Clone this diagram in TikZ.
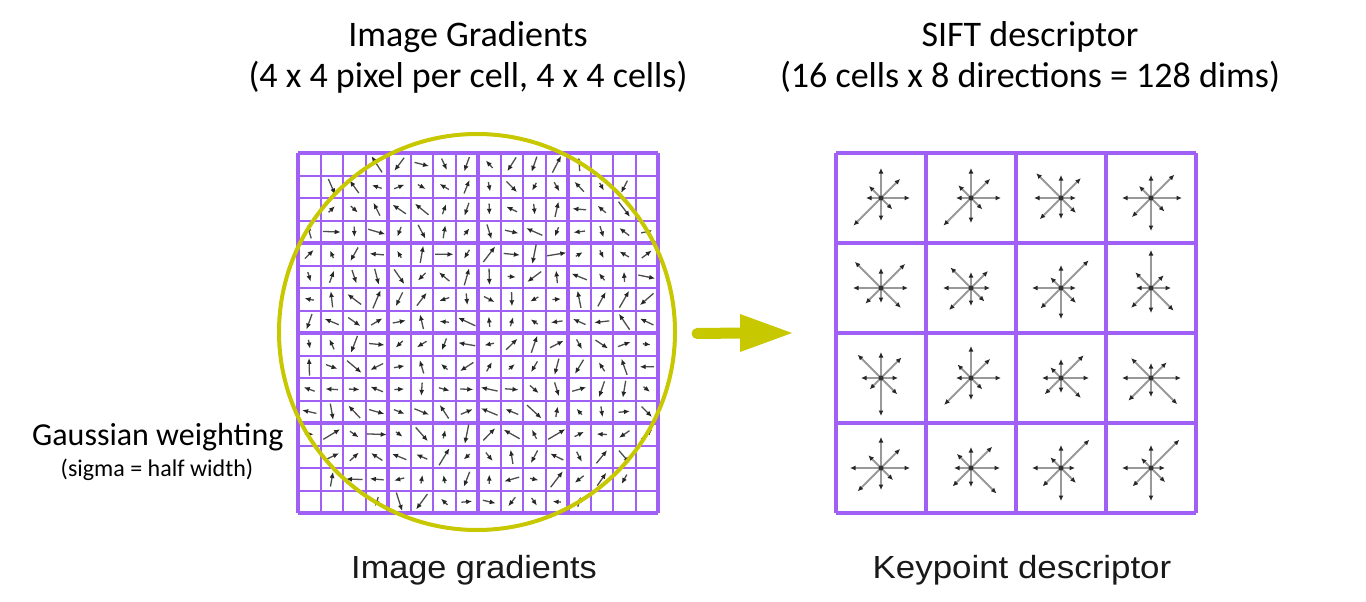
\documentclass[tikz,border=0pt]{standalone}
\usepackage{fontspec}
\usepackage{graphicx}
\setmainfont{Carlito}
\newfontfamily\arialf{Liberation Sans}
\usetikzlibrary{arrows.meta}
\definecolor{gridp}{RGB}{160,95,245}
\definecolor{yel}{RGB}{200,200,0}
\tikzset{
  thinl/.style={draw=gridp, line width=2pt},
  thickl/.style={draw=gridp, line width=4.5pt},
  garrow/.style={draw=black!70, line width=1.3pt, -{Latex[length=6pt,width=5pt,color=black!85]}},
  starline/.style={draw=black!40, line width=2pt, -{Latex[length=5.5pt,width=5pt,color=black!85]}},
  bigyel/.style={draw=yel, line width=11pt, line cap=round},
  titlef/.style={anchor=base, font=\fontsize{36}{40}\selectfont},
  botf/.style={anchor=base, font=\arialf\fontsize{32}{36}\selectfont, text=black!90},
}
\newcommand\siftstar[2]{%
  \foreach \L [count=\k from 0] in {#2} {\draw[starline] (#1) -- ++({-\k*45}:\L);}
  \fill[black!80] (#1) circle[radius=2.5];
}
\begin{document}
\begin{tikzpicture}[x=1pt,y=-1pt]
\useasboundingbox (0,0) rectangle (1366,602);
\fill[white] (0,0) rectangle (1366,602);

% titles
\node[titlef] (t1a) at (468,47) {Image Gradients};
\node[titlef] (t1b) at (468,88) {(4 x 4 pixel per cell, 4 x 4 cells)};
\node[titlef] (t2a) at (1030,47) {SIFT descriptor};
\node[titlef] (t2b) at (1030,88) {(16 cells x 8 directions = 128 dims)};

% left grid
\foreach \i in {0,...,16} {
  \draw[thinl] (298+\i*22.5,153) -- (298+\i*22.5,513);
  \draw[thinl] (298,153+\i*22.5) -- (658,153+\i*22.5);
}
\foreach \i in {0,...,4} {
  \draw[thickl] (298+\i*90,153) -- (298+\i*90,513);
  \draw[thickl] (298,153+\i*90) -- (658,153+\i*90);
}

% gradient arrows
\pgfmathsetseed{11}
\foreach \r in {0,...,15} {
  \foreach \c in {0,...,15} {
    \pgfmathtruncatemacro\ins{((\c-7.5)^2+(\r-7.5)^2)<85.5 ? 1 : 0}
    \ifnum\ins=1
      \pgfmathsetmacro\ang{360*rnd}
      \pgfmathsetmacro\len{8+12*rnd}
      \coordinate (g) at (298+22.5*\c+11.25, 153+22.5*\r+11.25);
      \draw[garrow] (g) ++({\ang+180}:{\len/2}) -- ++({\ang}:{\len});
    \fi
  }
}

% gaussian circle
\draw[draw=yel, line width=4pt] (477,332) circle[radius=198];

% big arrow
\coordinate (arrS) at (697,333.5);
\coordinate (arrE) at (792,333);
\draw[bigyel] (arrS) -- ([xshift=-48pt]arrE);
\fill[yel] (arrE) -- ++(-52,-19) -- ++(0,38) -- cycle;

% right grid
\foreach \i in {0,...,4} {
  \draw[thickl] (836+\i*90,153) -- (836+\i*90,513);
  \draw[thickl] (836,153+\i*90) -- (1196,153+\i*90);
}
\foreach \r in {0,...,3} {
  \foreach \c in {0,...,3} {
    \coordinate (d\r\c) at (836+90*\c+45, 153+90*\r+45);
  }
}
\siftstar{d00}{29,27,30,17,15,39,23,16}
\siftstar{d01}{30,27,30,18,15,39,25,16}
\siftstar{d02}{15,28,23,35,27,30,21,21}
\siftstar{d03}{31,33,23,17,29,27,33,19}
\siftstar{d10}{27,34,20,37,28,22,15,28}
\siftstar{d11}{19,24,16,29,28,31,18,19}
\siftstar{d12}{15,39,23,15,29,29,31,21}
\siftstar{d13}{20,18,38,22,15,28,25,32}
\siftstar{d20}{17,29,26,33,20,16,38,23}
\siftstar{d21}{30,27,32,19,15,38,22,16}
\siftstar{d22}{28,32,19,15,19,23,15,28}
\siftstar{d23}{30,22,15,28,29,32,19,37}
\siftstar{d30}{29,27,31,18,31,33,22,17}
\siftstar{d31}{29,30,21,20,17,26,19,36}
\siftstar{d32}{14,40,23,15,29,26,33,21}
\siftstar{d33}{14,40,23,14,29,26,33,20}

% side labels
\node[anchor=base west, inner sep=0, font=\fontsize{32}{36}\selectfont] (gw) at (32,445) {Gaussian weighting};
\node[anchor=base, font=\fontsize{24}{28}\selectfont] (sg) at (157,476) {(sigma = half width)};

% bottom labels
\node[botf] (lb1) at (474,578) {\scalebox{1.07}[1]{Image gradients}};
\node[botf] (lb2) at (1022,578) {\scalebox{1.09}[1]{Keypoint descriptor}};
\end{tikzpicture}
\end{document}
